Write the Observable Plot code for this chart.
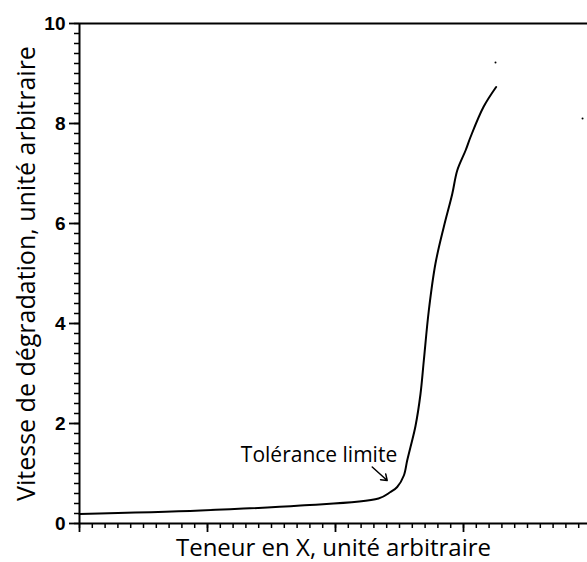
<!DOCTYPE html>
<html>
<head>
<meta charset="utf-8">
<script src="https://cdn.jsdelivr.net/npm/d3@7"></script>
<script src="https://cdn.jsdelivr.net/npm/@observablehq/plot@0.6"></script>
<style>
  html, body { margin: 0; padding: 0; background: #fff; }
  #chart svg { display: block; color: #000; overflow: visible; }
</style>
</head>
<body>
<div id="chart"></div>
<script>
// Teneur en X (arbitrary units, 1 unit = one minor tick)
const teneur = [0, 9.45, 17.27, 23.36, 24.30, 24.82, 25.34, 25.60, 25.86, 26.25, 26.64, 26.90, 27.29, 27.81, 28.46, 29.12, 29.51, 30.16, 30.55, 31.56, 32.55];
// Vitesse de dégradation (arbitrary units)
const vitesse = [0.19, 0.26, 0.36, 0.50, 0.63, 0.73, 0.96, 1.26, 1.53, 1.95, 2.59, 3.26, 4.26, 5.20, 5.93, 6.59, 7.06, 7.46, 7.73, 8.33, 8.73];

// stray specks of the scanned original
const speckX = [32.5, 39.3];
const speckY = [9.22, 8.1];

// tick labels
const yMajorTicks = [0, 2, 4, 6, 8, 10];
const yMinorTicks = d3.range(0, 10.001, 0.2);
const xMajorTicks = [0, 10, 20, 30];
const xMinorTicks = d3.range(0, 40, 1);

// annotation
const annotText = ["Tolérance limite"];
const annotTextX = [24.82];
const annotTextY = [1.37];
const arrowFrom = [22.87, 1.13];
const arrowTo = [24.04, 0.86];

const xLabel = "Teneur en X, unité arbitraire";
const yLabel = "Vitesse de dégradation, unité arbitraire";

const curve = teneur.map((t, i) => ({x: t, y: vitesse[i]}));
const specks = speckX.map((t, i) => ({x: t, y: speckY[i]}));
const arrows = [{x1: arrowFrom[0], y1: arrowFrom[1], x2: arrowTo[0], y2: arrowTo[1]}];
const notes = annotText.map((t, i) => ({text: t, x: annotTextX[i], y: annotTextY[i]}));

const font = "'Open Sans', sans-serif";

const chart = Plot.plot({
  width: 587,
  height: 562,
  marginLeft: 79,
  marginTop: 23,
  marginBottom: 39,
  marginRight: 0,
  style: {fontFamily: font, background: "#fff", color: "#000"},
  x: {domain: [0, 40], range: [79, 591], label: null},
  y: {domain: [0, 10], range: [523, 23], label: null},
  marks: [
    Plot.axisY({ticks: yMinorTicks, tickSize: 5, text: null, strokeWidth: 1.5, label: null}),
    Plot.axisY({ticks: yMajorTicks, tickSize: 10, tickPadding: 4, strokeWidth: 1.8, label: null,
      fontSize: 19, fontWeight: "bold", fontFamily: "'Liberation Sans', Arial, sans-serif", tickFormat: d => String(d)}),
    Plot.axisX({ticks: xMinorTicks, tickSize: 5, text: null, strokeWidth: 1.5, label: null}),
    Plot.axisX({ticks: xMajorTicks, tickSize: 9, text: null, strokeWidth: 1.8, label: null}),
    Plot.ruleX([0], {stroke: "#000", strokeWidth: 2}),
    Plot.ruleY([0], {stroke: "#000", strokeWidth: 2}),
    Plot.ruleY([10], {stroke: "#000", strokeWidth: 2}),
    Plot.line(curve, {x: "x", y: "y", stroke: "#000", strokeWidth: 2, curve: "catmull-rom"}),
    Plot.dot(specks, {x: "x", y: "y", r: 1, fill: "#000", stroke: null}),
    Plot.text(notes, {x: "x", y: "y", text: "text", textAnchor: "end", lineAnchor: "middle",
      fontSize: 21, fontFamily: font, fill: "#000"}),
    Plot.arrow(arrows, {x1: "x1", y1: "y1", x2: "x2", y2: "y2", stroke: "#000", strokeWidth: 1.5,
      headLength: 8, headAngle: 70}),
    Plot.text([xLabel], {frameAnchor: "bottom", textAnchor: "middle", dy: 25, fontSize: 24, fontFamily: font, fill: "#000", lineAnchor: "middle"}),
    Plot.text([yLabel], {frameAnchor: "left", textAnchor: "middle", dx: -53, rotate: -90, fontSize: 25, fontFamily: font, fill: "#000", lineAnchor: "middle"})
  ]
});

document.getElementById("chart").appendChild(chart);
</script>
</body>
</html>
